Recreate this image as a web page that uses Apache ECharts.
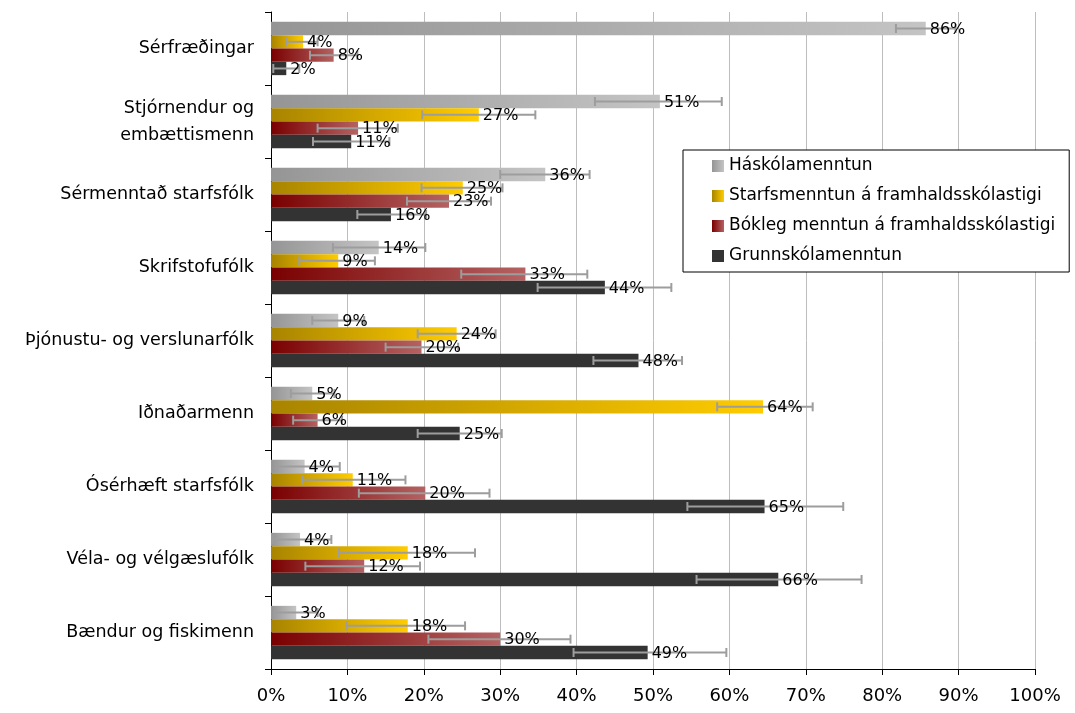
<!DOCTYPE html>
<html>
<head>
<meta charset="utf-8">
<script src="https://cdn.jsdelivr.net/npm/echarts@6/dist/echarts.min.js"></script>
<style>
html, body { margin: 0; padding: 0; background: #fff; }
#chart { width: 1075px; height: 713px; }
</style>
</head>
<body>
<div id="chart"></div>
<script>
var categories = [
    "Sérfræðingar",
    "Stjórnendur og\nembættismenn",
    "Sérmenntað starfsfólk",
    "Skrifstofufólk",
    "Þjónustu- og verslunarfólk",
    "Iðnaðarmenn",
    "Ósérhæft starfsfólk",
    "Véla- og vélgæslufólk",
    "Bændur og fiskimenn"
];

var seriesNames = [
    "Háskólamenntun",
    "Starfsmenntun á framhaldsskólastigi",
    "Bókleg menntun á framhaldsskólastigi",
    "Grunnskólamenntun"
];

// percentages, top category first
var haskoli = [85.7, 50.9, 35.9, 14.1, 8.8, 5.4, 4.4, 3.8, 3.3];
var haskoliLow = [81.8, 42.4, 30.0, 8.1, 5.4, 2.6, 0.7, 0.2, 0.5];
var haskoliHigh = [89.6, 59.0, 41.7, 20.2, 12.2, 8.3, 9.0, 7.9, 6.1];

var starfs = [4.2, 27.2, 25.1, 8.8, 24.3, 64.4, 10.7, 17.9, 17.9];
var starfsLow = [2.0, 19.8, 19.7, 3.7, 19.2, 58.4, 4.1, 8.9, 9.9];
var starfsHigh = [6.1, 34.6, 30.3, 13.6, 29.4, 70.9, 17.6, 26.7, 25.4];

var boklegt = [8.2, 11.4, 23.3, 33.3, 19.7, 6.1, 20.2, 12.2, 30.0];
var boklegtLow = [5.1, 6.1, 17.8, 24.9, 15.0, 2.9, 11.5, 4.5, 20.6];
var boklegtHigh = [11.3, 16.6, 28.8, 41.4, 24.5, 9.3, 28.6, 19.5, 39.2];

var grunn = [2.0, 10.5, 15.7, 43.7, 48.1, 24.7, 64.6, 66.4, 49.3];
var grunnLow = [0.3, 5.5, 11.3, 34.9, 42.2, 19.2, 54.5, 55.7, 39.6];
var grunnHigh = [3.7, 15.5, 20.3, 52.4, 53.8, 30.2, 74.9, 77.3, 59.6];

var FONT = "DejaVu Sans";
var CAT_GAP = 0.27;

var grad = function(a, b) {
    return new echarts.graphic.LinearGradient(0, 0, 1, 0, [
        { offset: 0, color: a },
        { offset: 1, color: b }
    ]);
};

var colors = [
    grad("#959595", "#c4c4c4"),
    grad("#a88400", "#ffcc00"),
    grad("#7a0000", "#b56262"),
    "#333333"
];

var values = [haskoli, starfs, boklegt, grunn];
var lows = [haskoliLow, starfsLow, boklegtLow, grunnLow];
var highs = [haskoliHigh, starfsHigh, boklegtHigh, grunnHigh];

var errData = [];
for (var s = 0; s < 4; s++) {
    for (var i = 0; i < categories.length; i++) {
        errData.push([i, values[s][i], lows[s][i], highs[s][i], s]);
    }
}

var renderErr = function(params, api) {
    var cat = api.value(0);
    var val = api.value(1);
    var s = api.value(4);
    var band = api.size([0, 1])[1];
    var total = band * (1 - CAT_GAP);
    var barW = total / 4;
    var c = api.coord([val, cat]);
    var y = c[1] - total / 2 + barW * (s + 0.5);
    var x1 = api.coord([api.value(2), cat])[0];
    var x2 = api.coord([api.value(3), cat])[0];
    var st = { stroke: "#9d9d9d", lineWidth: 2 };
    return {
        type: "group",
        children: [
            { type: "line", shape: { x1: x1, y1: y, x2: x2, y2: y }, style: st },
            { type: "line", shape: { x1: x1, y1: y - 4.5, x2: x1, y2: y + 4.5 }, style: st },
            { type: "line", shape: { x1: x2, y1: y - 4.5, x2: x2, y2: y + 4.5 }, style: st },
            {
                type: "text",
                z2: 20,
                style: {
                    x: c[0] + 4,
                    y: y + 1,
                    text: Math.round(val) + "%",
                    fill: "#000",
                    fontSize: 16,
                    fontFamily: FONT,
                    align: "left",
                    verticalAlign: "middle"
                }
            }
        ]
    };
};

var chart = echarts.init(document.getElementById("chart"));

var series = seriesNames.map(function(name, k) {
    return {
        name: name,
        type: "bar",
        data: values[k],
        barCategoryGap: "27%",
        barGap: "0%",
        itemStyle: { color: colors[k] }
    };
});

series.push({
    name: "err",
    type: "custom",
    renderItem: renderErr,
    data: errData,
    encode: { x: [1, 2, 3], y: 0 },
    z: 5,
    silent: true
});

var option = {
    animation: false,
    backgroundColor: "#fff",
    textStyle: { fontFamily: FONT },
    grid: { left: 271, right: 40, top: 12, bottom: 44, containLabel: false, outerBoundsMode: "none" },
    legend: {
        data: seriesNames,
        orient: "vertical",
        left: 683,
        top: 150,
        padding: [6, 14, 6, 29],
        itemWidth: 12,
        itemHeight: 12,
        itemGap: 10,
        icon: "rect",
        backgroundColor: "#fff",
        borderColor: "#000",
        borderWidth: 1,
        borderRadius: 0,
        textStyle: { fontSize: 17, lineHeight: 20, color: "#000", fontFamily: FONT }
    },
    xAxis: {
        type: "value",
        min: 0,
        max: 100,
        interval: 10,
        axisLine: { show: true, lineStyle: { color: "#000", width: 1 } },
        axisTick: { show: true, length: 6, lineStyle: { color: "#000" } },
        axisLabel: {
            formatter: "{value}%",
            fontSize: 18,
            color: "#000",
            margin: 18,
            fontFamily: FONT
        },
        splitLine: { show: true, lineStyle: { color: "#bdbdbd", width: 1 } }
    },
    yAxis: {
        type: "category",
        data: categories,
        inverse: true,
        axisLine: { show: true, lineStyle: { color: "#000", width: 1 } },
        axisTick: { show: true, length: 6, lineStyle: { color: "#000" } },
        axisLabel: {
            fontSize: 17.5,
            color: "#000",
            margin: 17,
            lineHeight: 27,
            fontFamily: FONT
        },
        splitLine: { show: false }
    },
    series: series
};

chart.setOption(option);
</script>
</body>
</html>
